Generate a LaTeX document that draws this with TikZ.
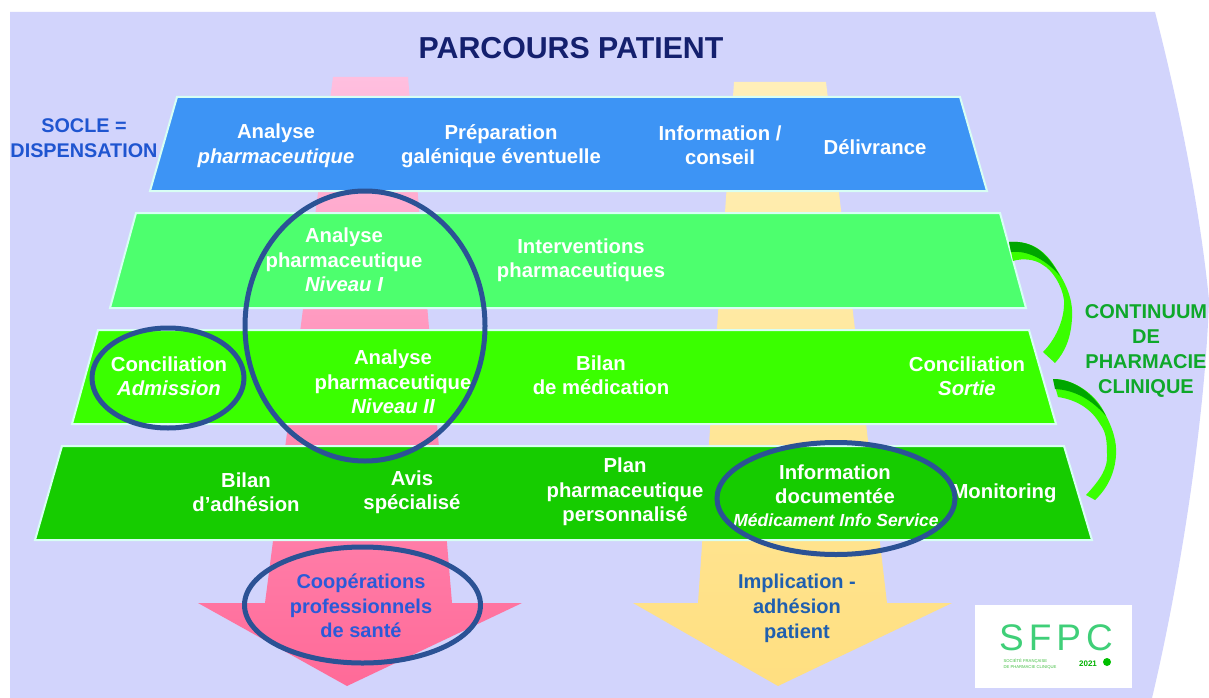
\documentclass[tikz,border=0pt]{standalone}
\usepackage{fontspec}
\setmainfont{Liberation Sans}
\usetikzlibrary{calc}
\definecolor{bgc}{HTML}{D2D4FC}
\definecolor{pinkb}{HTML}{FFBFDF}
\definecolor{pinkd}{HTML}{FF6A98}
\definecolor{yelb}{HTML}{FFEFB8}
\definecolor{yeld}{HTML}{FFDF80}
\definecolor{bluec}{HTML}{3D94F5}
\definecolor{g1}{HTML}{4DFF6E}
\definecolor{g2}{HTML}{3AFF00}
\definecolor{g3}{HTML}{16CC00}
\definecolor{ringc}{HTML}{2B5295}
\definecolor{navy}{HTML}{14206E}
\definecolor{edgec}{HTML}{D8FFF4}
\definecolor{contc}{HTML}{0EA82A}
\definecolor{sflogo}{HTML}{3FCF78}
\definecolor{soclec}{HTML}{1F55D0}
\definecolor{pinktxt}{HTML}{2A5AD8}
\definecolor{yeltxt}{HTML}{1F5FAF}
\tikzset{
 x=1pt,y=-1pt,
 band/.style={draw=edgec,line width=2pt,line join=miter},
 lab/.style={text=white,font=\bfseries\fontsize{20.3}{24.5}\selectfont,align=center,inner sep=0pt},
 ring/.style={draw=ringc,line width=5pt},
 bluelab/.style={font=\bfseries\fontsize{20}{24.7}\selectfont,align=center,inner sep=0pt},
 arcshape/.style={fill=g2,draw=none},
 arcdark/.style={fill=green!65!black,draw=none},
}
\begin{document}
\begin{tikzpicture}
\useasboundingbox (0,0) rectangle (1209,698);
\fill[white] (0,0) rectangle (1209,698);
\fill[bgc] (10,12) -- (1155,12) .. controls (1180,110) and (1200,210) .. (1209,300) .. controls (1205,420) and (1180,580) .. (1152,698) -- (10,698) -- cycle;
% pink arrow
\shade[top color=pinkb,bottom color=pinkd,middle color=pinkb!45!pinkd] (333,77) -- (408,77) -- (452,603) -- (522,603) -- (347,686) -- (198,603) -- (265,603) -- cycle;
% yellow arrow
\shade[top color=yelb,bottom color=yeld] (734,82) -- (826,82) -- (887,603) -- (952,603) -- (778,686) -- (633,603) -- (698,603) -- cycle;
% bands
\path[band,fill=bluec] (177,97) -- (960,97) -- (987,191) -- (150,191) -- cycle;
\path[band,fill=g1] (136,213) -- (1000,213) -- (1026,308) -- (110,308) -- cycle;
\path[band,fill=g2] (98,330) -- (1029,330) -- (1056,424) -- (72,424) -- cycle;
\path[band,fill=g3] (62,446) -- (1064,446) -- (1092,540) -- (35,540) -- cycle;
% title
\node[text=navy,font=\bfseries\fontsize{30.3}{32}\selectfont,inner sep=0pt] (title) at (571,48) {PARCOURS PATIENT};
\node[text=soclec,font=\bfseries\fontsize{19.8}{25}\selectfont,align=center,inner sep=0pt] (socle) at (84,138) {SOCLE =\\DISPENSATION};
% labels
\node[lab] (a1) at (276,146) {Analyse\\\itshape pharmaceutique};
\node[lab] (a2) at (501,146) {Préparation\\galénique éventuelle};
\node[lab] (a3) at (720,145) {Information /\\conseil};
\node[lab] (a4) at (875,147) {Délivrance};
\node[lab] (b1) at (344,260) {Analyse\\pharmaceutique\\\itshape Niveau I};
\node[lab] (b2) at (581,260) {Interventions\\pharmaceutiques};
\node[lab] (c1) at (169,376) {Conciliation\\\itshape Admission};
\node[lab] (c2) at (393,382) {Analyse\\pharmaceutique\\\itshape Niveau II};
\node[lab] (c3) at (601,375) {Bilan\\de médication};
\node[lab] (c4) at (967,376) {Conciliation\\\itshape Sortie};
\node[lab] (d1) at (246,492) {Bilan\\d’adhésion};
\node[lab] (d2) at (412,492) {Avis\\spécialisé};
\node[lab] (d3) at (625,492) {Plan\\pharmaceutique\\personnalisé};
\node[lab] (d4) at (835,484) {Information\\documentée};
\node[lab,font=\bfseries\itshape\fontsize{17.5}{20}\selectfont] (d5) at (836,520) {Médicament Info Service};
\node[lab] (d6) at (1004,493) {Monitoring};
\node[bluelab,text=pinktxt] (p) at (361,606) {Coopérations\\professionnels\\de santé};
\node[bluelab,text=yeltxt] (y) at (797,608.5) {Implication -\\adhésion\\patient};
% rings
\draw[ring] (365,326) ellipse [x radius=120,y radius=135];
\draw[ring] (168,378) ellipse [x radius=76,y radius=50];
\draw[ring] (836,498.5) ellipse [x radius=119,y radius=56];
\draw[ring] (362.5,605) ellipse [x radius=118,y radius=58];
% curved arrows
\fill[arcshape] (1009,242) .. controls (1035,240) and (1048,255) .. (1057,270) .. controls (1070,290) and (1073,305) .. (1072,318) .. controls (1071,338) and (1065,352) .. (1055,363) -- (1043,352) .. controls (1055,340) and (1065,320) .. (1064,300) .. controls (1062,285) and (1052,270) .. (1043,265) .. controls (1035,259) and (1022,258) .. (1013,261) -- cycle;
\fill[arcdark] (1009,242) .. controls (1035,240) and (1048,255) .. (1060,276) .. controls (1048,262) and (1030,250) .. (1011,252) -- cycle;
\fill[arcshape] (1053,379) .. controls (1075,379) and (1095,395) .. (1103,410) .. controls (1113,428) and (1117,442) .. (1116,455) .. controls (1115,472) and (1108,488) .. (1095,500) -- (1086,495) .. controls (1100,480) and (1108,468) .. (1107,455) .. controls (1107,440) and (1106,432) .. (1100,424) .. controls (1092,410) and (1078,400) .. (1058,397) -- cycle;
\fill[arcdark] (1053,379) .. controls (1075,379) and (1095,395) .. (1106,416) .. controls (1092,400) and (1075,390) .. (1055,389) -- cycle;
\node[text=contc,font=\bfseries\fontsize{20}{24.7}\selectfont,align=center,inner sep=0pt] (cont) at (1146,351) {CONTINUUM\\DE\\PHARMACIE\\CLINIQUE};
% logo
\fill[white] (975,605) rectangle (1132,688);
\node[text=sflogo,font=\fontsize{37}{37}\selectfont,inner sep=0pt] (sfpc) at (1056,638) {S\kern5pt F\kern5pt P\kern5pt C};
\node[text=green!70!black,font=\bfseries\fontsize{8}{8}\selectfont,inner sep=0pt] (yr) at (1088,664) {2021};
\node[text=green!50!gray,font=\fontsize{4.2}{6}\selectfont,align=left,inner sep=0pt] (soc) at (1030,664) {SOCIÉTÉ FRANÇAISE\\DE PHARMACIE CLINIQUE};
\fill[green!75!black] (1107,662) circle (4);
\end{tikzpicture}
\end{document}
